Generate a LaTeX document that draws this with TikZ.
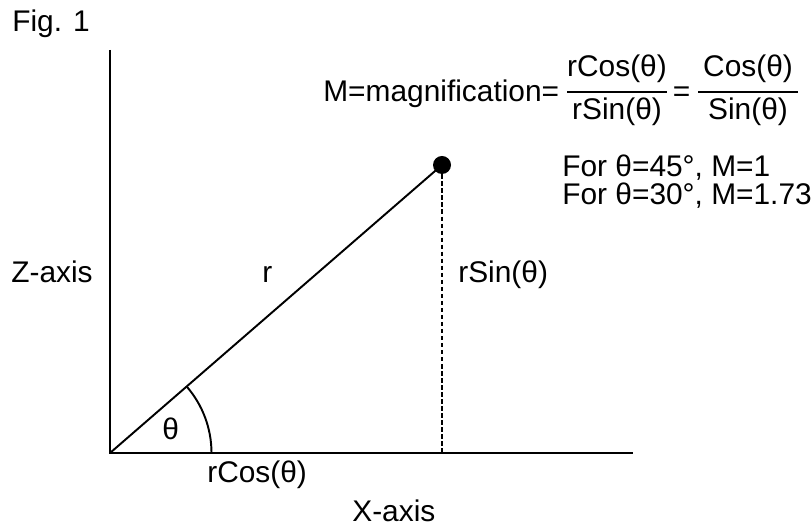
\documentclass[tikz,border=0pt]{standalone}
\usepackage{fontspec}
\setmainfont{Liberation Sans}
\usetikzlibrary{positioning}

\begin{document}
\begin{tikzpicture}[every node/.style={font=\fontsize{17}{20}\selectfont}]
\tikzset{lbl/.style={inner sep=0pt, anchor=base west}}
\tikzset{fr/.style={inner sep=0pt, anchor=base}}
\tikzset{ax/.style={line width=1.1pt}}
\useasboundingbox (0,0) rectangle (16.22,10.54);
\coordinate (o) at (2.2,1.48);
\coordinate (ztop) at (2.2,9.54);
\coordinate (xend) at (12.66,1.48);
\node[circle, fill=black, minimum size=0.36cm, inner sep=0pt] (p) at (8.84,7.24) {};
\coordinate (foot) at (8.84,1.48);
\draw[ax] (ztop)--(o)--(xend);
\draw[ax] (o)--(p.center);
\draw[line width=0.8pt, dash pattern=on 2.5pt off 1.5pt] (p)--(foot);
\draw[ax] (o) ++(2.03,0) arc[start angle=0, end angle=40.9, radius=2.03];
% labels
\node[lbl] (fig) at (0.24,9.9) {Fig. 1};
\node[lbl] (zlab) at (0.22,4.88) {Z-axis};
\node[lbl] (rlab) at (5.24,4.88) {r};
\node[lbl] (sinlab) at (9.16,4.88) {rSin(θ)};
\node[lbl] (th) at (3.24,1.74) {θ};
\node[lbl] (coslab) at (4.14,0.88) {rCos(θ)};
\node[lbl] (xlab) at (7.04,0.1) {X-axis};
\node[lbl] (m45) at (11.24,7.0) {For θ=45°, M=1};
\node[lbl] (m30) at ([yshift=-0.56cm]m45.base west) {For θ=30°, M=1.73};
% formula
\node[lbl] (mag) at (6.46,8.5) {M=magnification=};
\node[fr] (num1) at (12.34,9.0) {rCos(θ)};
\node[fr] (den1) at (12.34,8.14) {rSin(θ)};
\draw[ax] (11.34,8.7) -- (13.34,8.7);
\node[fr] (eq) at (13.63,8.5) {=};
\node[fr] (num2) at (14.96,9.0) {Cos(θ)};
\node[fr] (den2) at (14.96,8.14) {Sin(θ)};
\draw[ax] (13.96,8.7) -- (15.96,8.7);
\end{tikzpicture}
\end{document}
